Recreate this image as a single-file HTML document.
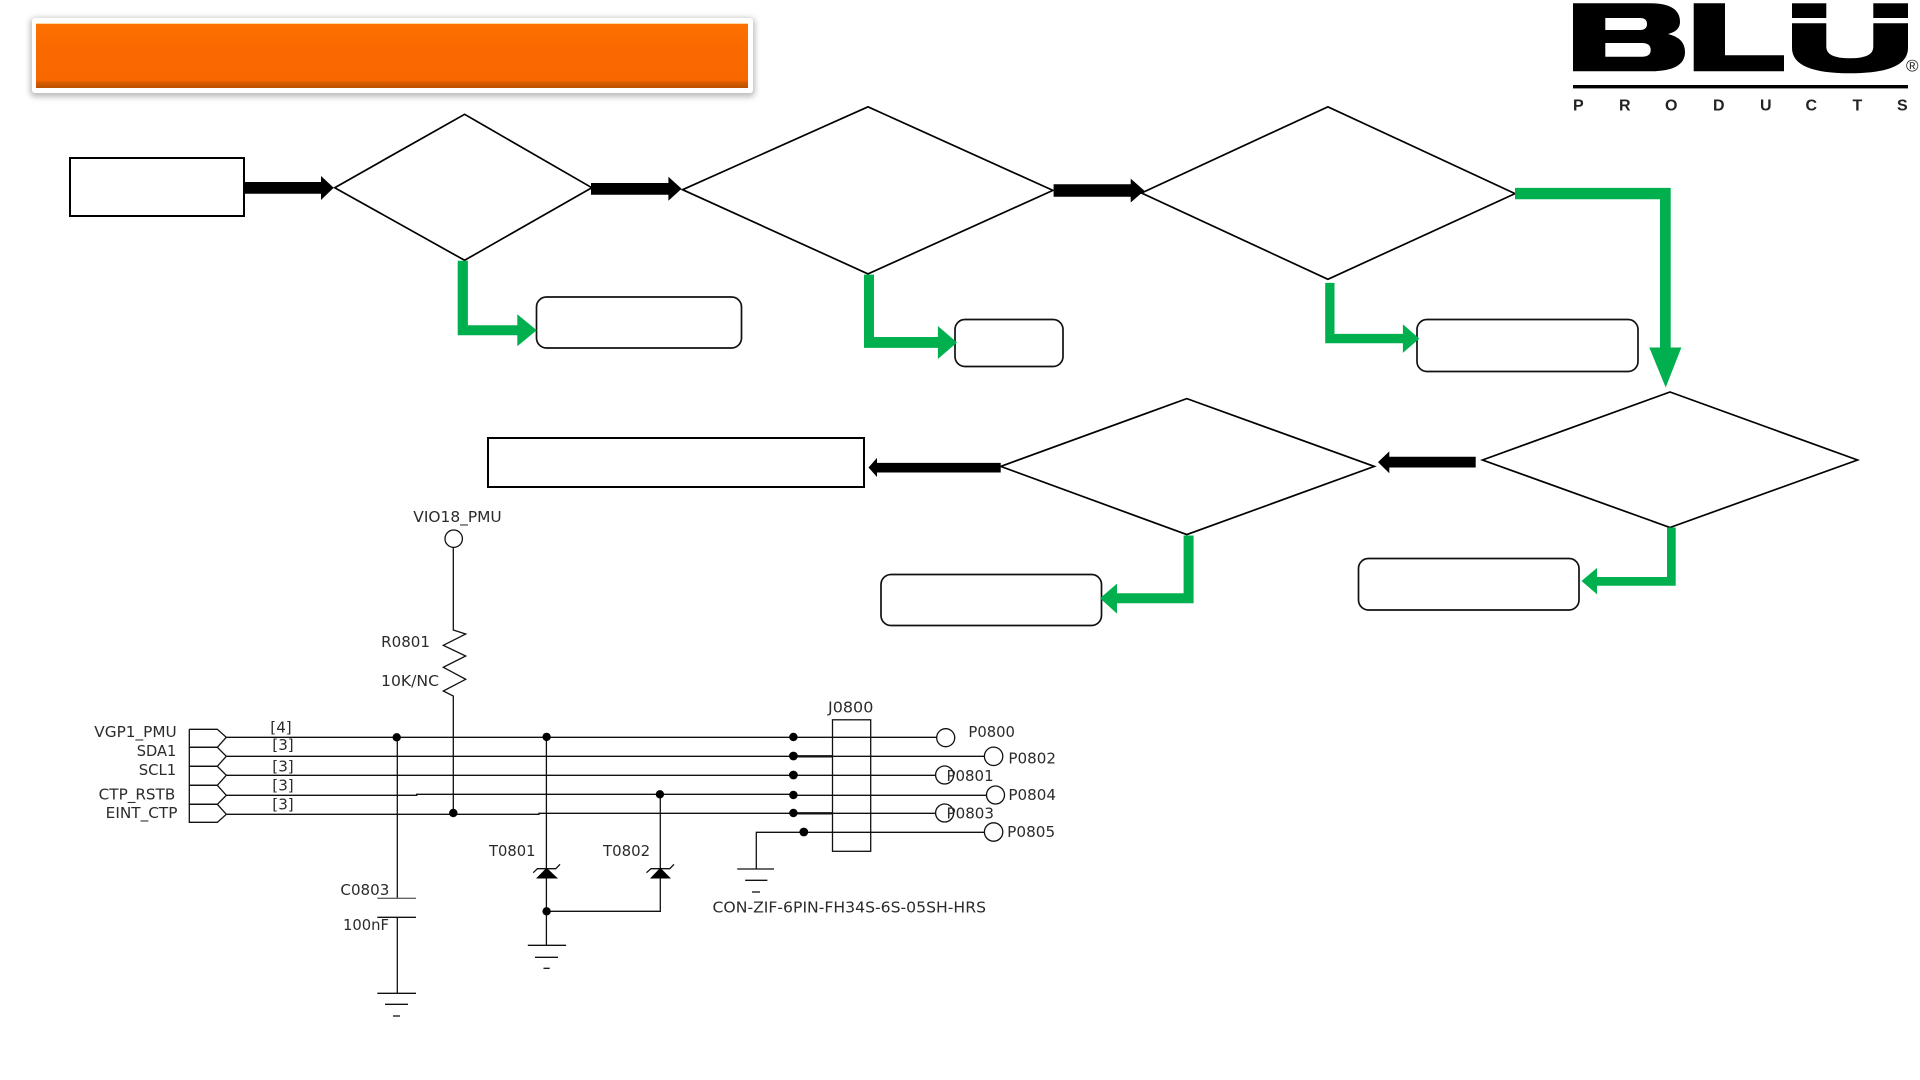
<!DOCTYPE html>
<html><head><meta charset="utf-8"><style>
html,body{margin:0;padding:0;background:#fff;width:1920px;height:1080px;overflow:hidden}
svg{display:block;position:absolute;left:0;top:0}
.t{font-family:"DejaVu Sans",sans-serif;font-size:15px;fill:#2b2b2b}
.p{font-family:"Liberation Sans",sans-serif;font-size:16px;font-weight:bold;fill:#222}
.s{fill:none;stroke:#000;stroke-width:1.7}
.r{fill:#fff;stroke:#111;stroke-width:1.7}
.w{fill:none;stroke:#111;stroke-width:1.3}
</style></head><body>
<div style="position:absolute;left:32px;top:18px;width:721px;height:75px;background:#fff;border-radius:3px;box-shadow:0 2px 6px 2px rgba(90,90,90,.4)"></div>
<div style="position:absolute;left:36px;top:23px;width:712px;height:65px;background:linear-gradient(#fd7000 0,#fa6900 40%,#f96700 88%,#d85c00 91%,#bb5000 100%);border-top:1px solid #ffd9a0;box-sizing:border-box"></div>
<svg width="1920" height="1080" viewBox="0 0 1920 1080">
<!-- nodes -->
<rect x="70" y="158" width="174" height="58" fill="#fff" stroke="#000" stroke-width="2"/>
<polygon class="s" fill="#fff" points="334.7,187.7 464.6,114.3 591.8,187.7 464.6,260.3"/>
<polygon class="s" points="682.6,189.7 868,106.8 1052.9,190.4 868,273.9"/>
<polygon class="s" points="1141.4,193 1327.9,106.8 1515,193.6 1327.9,279.3"/>
<polygon class="s" points="1482.5,460 1670,392 1857.5,460 1670,527.5"/>
<polygon class="s" points="1000.7,466.4 1186.8,398.6 1374.3,466.4 1186.8,534.6"/>
<rect x="488" y="438" width="376" height="49" fill="#fff" stroke="#000" stroke-width="2"/>
<rect class="r" x="536.5" y="297" width="205" height="51" rx="10"/>
<rect class="r" x="955" y="319.5" width="108" height="47" rx="10"/>
<rect class="r" x="1417" y="319.5" width="221" height="52" rx="10"/>
<rect class="r" x="1358.5" y="558.5" width="220.5" height="51.5" rx="10"/>
<rect class="r" x="881" y="574.5" width="220.5" height="51" rx="10"/>
<!-- black arrows -->
<g fill="#000">
<polygon points="244,182 321,182 321,176 333.7,187.7 321,200 321,193.7 244,193.7"/>
<polygon points="591,183 668.4,183 668.4,176.7 681.6,188.7 668.4,200.7 668.4,194.7 591,194.7"/>
<polygon points="1053.6,184.3 1130.7,184.3 1130.7,178.6 1144.3,190.7 1130.7,202.5 1130.7,196.8 1053.6,196.8"/>
<polygon points="1475.7,456.8 1389.3,456.8 1389.3,451.4 1378,462.1 1389.3,473.2 1389.3,467.5 1475.7,467.5"/>
<polygon points="1000.7,462.9 877,462.9 877,457.9 868.5,467.5 877,477 877,472.5 1000.7,472.5"/>
</g>
<!-- green arrows -->
<g fill="#00B04F">
<polygon points="457.7,260.7 467.9,260.7 467.9,325.3 517.3,325.3 517.3,314.3 536.7,330.3 517.3,346.3 517.3,335.3 457.7,335.3"/>
<polygon points="864,274.6 874,274.6 874,337 937.9,337 937.9,326 957,342.5 937.9,359 937.9,347.9 864,347.9"/>
<polygon points="1325.2,282.9 1334.5,282.9 1334.5,333.9 1402.9,333.9 1402.9,324.3 1419.3,338.6 1402.9,352.9 1402.9,343.2 1325.2,343.2"/>
<polygon points="1515,187.9 1670.7,187.9 1670.7,347.5 1681.4,347.5 1665.7,387.5 1649.3,347.5 1660,347.5 1660,199.3 1515,199.3"/>
<polygon points="1667,527.5 1675.7,527.5 1675.7,585.7 1597,585.7 1597,594.3 1581.5,581 1597,567.9 1597,577 1667,577"/>
<polygon points="1183.6,535.5 1193.6,535.5 1193.6,603.2 1117,603.2 1117,613.6 1100,598.2 1117,583.6 1117,593.2 1183.6,593.2"/>
</g>
<!-- logo -->
<g fill="#000">
<path fill-rule="evenodd" d="M1573 3.3H1650Q1680 3.3 1680 22Q1680 31 1668 34Q1685 38 1685 52Q1685 71.3 1650 71.3H1573ZM1605.3 18V30H1640Q1647 30 1647 24Q1647 18 1640 18ZM1605.3 43V56.7H1642Q1650.7 56.7 1650.7 50Q1650.7 43 1642 43Z"/>
<polygon points="1693.7,3.3 1725,3.3 1725,55.3 1784,55.3 1784,71.3 1693.7,71.3"/>
<rect x="1792" y="3.3" width="34.3" height="14.7"/>
<rect x="1873.3" y="3.3" width="34.7" height="14.7"/>
<path d="M1792 23.3H1826.3V47Q1826.3 58.3 1850 58.3Q1873.3 58.3 1873.3 47V23.3H1908V48Q1908 73.3 1850 73.3Q1792 73.3 1792 48Z"/>
<rect x="1573" y="85" width="335" height="3.4"/>
</g>
<g class="p">
<text x="1573" y="110.5">P</text><text x="1619" y="110.5">R</text><text x="1665" y="110.5">O</text><text x="1713" y="110.5">D</text><text x="1760" y="110.5">U</text><text x="1805.5" y="110.5">C</text><text x="1852.5" y="110.5">T</text><text x="1897" y="110.5">S</text>
</g>
<text x="1906" y="71.5" style="font-family:'Liberation Sans',sans-serif;font-size:17px;fill:#222">®</text>
<!-- schematic wires -->
<g class="w">
<circle cx="453.7" cy="538.7" r="8.7"/>
<polyline points="453.3,547.3 453.3,630 465.7,634 443.3,645.3 465.7,656 443.3,667.3 465.7,679.3 443.3,691 453.3,696 453.3,813"/>
<polyline points="189.3,729.3 217.3,729.3 226.3,737.3 217.3,747.3 189.3,747.3"/>
<polyline points="189.3,747.3 217.3,747.3 226.3,756.3 217.3,766.3 189.3,766.3"/>
<polyline points="189.3,766.3 217.3,766.3 226.3,775.3 217.3,785.3 189.3,785.3"/>
<polyline points="189.3,785.3 217.3,785.3 226.3,795.3 217.3,804.3 189.3,804.3"/>
<polyline points="189.3,804.3 217.3,804.3 226.3,814.3 217.3,822.3 189.3,822.3 189.3,729.3"/>
<line x1="226.3" y1="737.3" x2="936.6" y2="737.3"/>
<line x1="226.3" y1="756.3" x2="984.4" y2="756.3"/>
<line x1="226.3" y1="775.3" x2="935.4" y2="775.3"/>
<polyline points="226.3,795.3 416.7,795.3 416.7,794.3 793.8,794.3 793.8,795.3 986.7,795.3"/>
<polyline points="226.3,814.3 539,814.3 539,813.3 935.4,813.3"/>
<polyline points="756.3,869 756.3,832.3 984.4,832.3"/>
<circle cx="945.7" cy="737.7" r="9"/>
<circle cx="993.6" cy="756.3" r="9.2"/>
<circle cx="944.6" cy="775" r="9"/>
<circle cx="995.5" cy="795" r="9"/>
<circle cx="944.6" cy="813" r="9"/>
<circle cx="993.6" cy="832" r="9.2"/>
<rect x="832.5" y="719.8" width="38.2" height="131.5"/>
<line x1="397.3" y1="737" x2="397.3" y2="898.3"/>
<line x1="377.3" y1="898.3" x2="416" y2="898.3" stroke="#666"/>
<line x1="377.3" y1="917.3" x2="416" y2="917.3"/>
<line x1="397.3" y1="917.3" x2="397.3" y2="993.3"/>
<line x1="377.3" y1="993.3" x2="416" y2="993.3"/>
<line x1="385" y1="1004.3" x2="408" y2="1004.3"/>
<line x1="393" y1="1016" x2="400" y2="1016"/>
<line x1="546.4" y1="737" x2="546.4" y2="945.3"/>
<polyline points="546.4,911.3 660.3,911.3 660.3,794.3"/>
<line x1="527.8" y1="945.3" x2="566.1" y2="945.3"/>
<line x1="535" y1="957.3" x2="558" y2="957.3"/>
<line x1="543.5" y1="968.3" x2="549.7" y2="968.3"/>
<line x1="737.2" y1="869" x2="774" y2="869"/>
<line x1="745.2" y1="880.3" x2="767.4" y2="880.3"/>
<line x1="752" y1="892" x2="760" y2="892"/>
<polyline points="533.2,872.7 537.4,868.7 555.8,868.7 560,864.3"/>
<polyline points="646.5,872.7 651,868.7 669.8,868.7 674,864.3"/>
</g>
<g stroke="#111" stroke-width="2.4">
<line x1="793" y1="756.3" x2="832.5" y2="756.3"/>
<line x1="793" y1="813.3" x2="832.5" y2="813.3"/>
</g>
<g fill="#000">
<polygon points="536,878.5 558,878.5 546.6,867.7"/>
<polygon points="650,878.5 671,878.5 660.3,867.7"/>
<circle cx="396.7" cy="737.3" r="4.2"/>
<circle cx="546.6" cy="736.9" r="4.2"/>
<circle cx="453.3" cy="813" r="4.2"/>
<circle cx="793.4" cy="737" r="4.2"/>
<circle cx="793.4" cy="756" r="4.4"/>
<circle cx="793.4" cy="775" r="4.4"/>
<circle cx="793.4" cy="795" r="4.2"/>
<circle cx="793.4" cy="813" r="4.2"/>
<circle cx="803.8" cy="832" r="4.4"/>
<circle cx="659.9" cy="794.3" r="4.2"/>
<circle cx="546.6" cy="911.3" r="4.2"/>
</g>
<!-- labels -->
<g class="t">
<text x="413.3" y="522" textLength="88.4" lengthAdjust="spacingAndGlyphs">VIO18_PMU</text>
<text x="381.2" y="647" textLength="48.8" lengthAdjust="spacingAndGlyphs">R0801</text>
<text x="381" y="686" textLength="58" lengthAdjust="spacingAndGlyphs">10K/NC</text>
<text x="94.3" y="737" textLength="82.4" lengthAdjust="spacingAndGlyphs">VGP1_PMU</text>
<text x="136.7" y="756" textLength="39.6" lengthAdjust="spacingAndGlyphs">SDA1</text>
<text x="138.7" y="775" textLength="37.6" lengthAdjust="spacingAndGlyphs">SCL1</text>
<text x="98.7" y="799.6" textLength="76.6" lengthAdjust="spacingAndGlyphs">CTP_RSTB</text>
<text x="105.7" y="818" textLength="71.8" lengthAdjust="spacingAndGlyphs">EINT_CTP</text>
<text x="270.3" y="732.7" textLength="21.4" lengthAdjust="spacingAndGlyphs">[4]</text>
<text x="272.3" y="750" textLength="21.4" lengthAdjust="spacingAndGlyphs">[3]</text>
<text x="272.3" y="771.3" textLength="21.4" lengthAdjust="spacingAndGlyphs">[3]</text>
<text x="272.3" y="790.3" textLength="21.4" lengthAdjust="spacingAndGlyphs">[3]</text>
<text x="272.3" y="809.3" textLength="21.4" lengthAdjust="spacingAndGlyphs">[3]</text>
<text x="340.4" y="895" textLength="49" lengthAdjust="spacingAndGlyphs">C0803</text>
<text x="343" y="930" textLength="46" lengthAdjust="spacingAndGlyphs">100nF</text>
<text x="489" y="856" textLength="46.5" lengthAdjust="spacingAndGlyphs">T0801</text>
<text x="603" y="856" textLength="47.2" lengthAdjust="spacingAndGlyphs">T0802</text>
<text x="828" y="712.7" textLength="45.4" lengthAdjust="spacingAndGlyphs">J0800</text>
<text x="968.4" y="737" textLength="46.6" lengthAdjust="spacingAndGlyphs">P0800</text>
<text x="1008.4" y="763.7" textLength="47.6" lengthAdjust="spacingAndGlyphs">P0802</text>
<text x="946.5" y="781" textLength="47.1" lengthAdjust="spacingAndGlyphs">P0801</text>
<text x="1008.4" y="800" textLength="47.6" lengthAdjust="spacingAndGlyphs">P0804</text>
<text x="946.5" y="818.3" textLength="47.5" lengthAdjust="spacingAndGlyphs">P0803</text>
<text x="1007.2" y="837" textLength="48" lengthAdjust="spacingAndGlyphs">P0805</text>
<text x="712.5" y="912.7" textLength="273.5" lengthAdjust="spacingAndGlyphs">CON-ZIF-6PIN-FH34S-6S-05SH-HRS</text>
</g>
</svg>
</body></html>
